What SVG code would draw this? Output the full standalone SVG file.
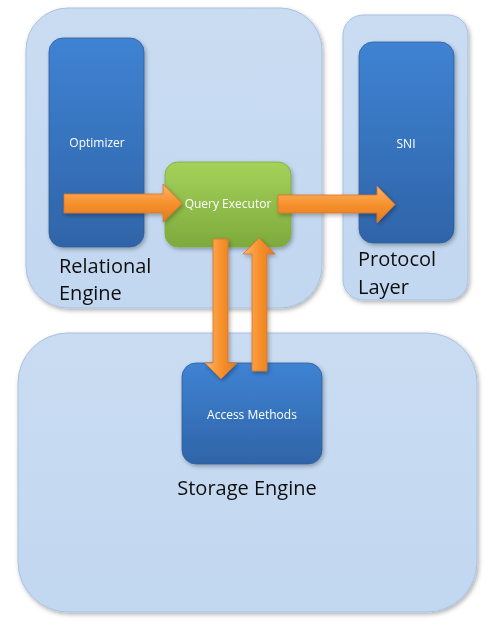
<svg xmlns="http://www.w3.org/2000/svg" width="496" height="622" viewBox="0 0 496 622">
<style>
.outer{fill:url(#gOuter);stroke:#a9c1df;stroke-width:1}
.blue{fill:url(#gBlue);stroke:#2f5e9b;stroke-width:0.8}
.green{fill:url(#gGreen);stroke:#7ea844;stroke-width:0.8}
.arrow{fill:url(#gArrowH);stroke:#d9742a;stroke-width:0.8}
.arrowv{fill:url(#gArrowV);stroke:#d9742a;stroke-width:0.8}
.lbl{font-family:"Open Sans","Liberation Sans",sans-serif;font-size:12px;fill:#ffffff}
.big{font-family:"Open Sans","Liberation Sans",sans-serif;font-size:20px;fill:#111111}
</style>
<defs>
<linearGradient id="gOuter" x1="0" y1="0" x2="0" y2="1">
<stop offset="0" stop-color="#c9dcf2"/>
<stop offset="1" stop-color="#c2d7f0"/>
</linearGradient>
<linearGradient id="gBlue" x1="0" y1="0" x2="0" y2="1">
<stop offset="0" stop-color="#3f83d3"/>
<stop offset="1" stop-color="#2f64a8"/>
</linearGradient>
<linearGradient id="gGreen" x1="0" y1="0" x2="0" y2="1">
<stop offset="0" stop-color="#a4d25a"/>
<stop offset="1" stop-color="#7eaa3c"/>
</linearGradient>
<linearGradient id="gArrowH" x1="0" y1="0" x2="0" y2="1">
<stop offset="0" stop-color="#fbb46a"/>
<stop offset="0.5" stop-color="#f7912d"/>
<stop offset="1" stop-color="#e07a22"/>
</linearGradient>
<linearGradient id="gArrowV" x1="0" y1="0" x2="1" y2="0">
<stop offset="0" stop-color="#fbb46a"/>
<stop offset="0.5" stop-color="#f7912d"/>
<stop offset="1" stop-color="#e07a22"/>
</linearGradient>
<filter id="sh" x="-10%" y="-10%" width="125%" height="125%">
<feDropShadow dx="1.5" dy="2" stdDeviation="2" flood-color="#000" flood-opacity="0.3"/>
</filter>
</defs>

<g id="relational-engine" filter="url(#sh)">
<rect class="outer" x="26" y="8" width="296" height="300" rx="42"/>
<text class="big" x="59" y="273">Relational</text>
<text class="big" x="59" y="300">Engine</text>
</g>
<g id="protocol-layer" filter="url(#sh)">
<rect class="outer" x="343" y="15" width="125" height="285" rx="20"/>
<text class="big" x="358" y="266">Protocol</text>
<text class="big" x="358" y="294">Layer</text>
</g>
<g id="storage-engine" filter="url(#sh)">
<rect class="outer" x="18" y="333" width="459" height="279" rx="50"/>
<text class="big" x="247" y="495" text-anchor="middle">Storage Engine</text>
</g>

<g id="optimizer" filter="url(#sh)">
<rect class="blue" x="49" y="38" width="95" height="209" rx="14"/>
<text class="lbl" x="97" y="147" text-anchor="middle">Optimizer</text>
</g>
<g id="sni" filter="url(#sh)">
<rect class="blue" x="359" y="42" width="95" height="201" rx="14"/>
<text class="lbl" x="406" y="148" text-anchor="middle">SNI</text>
</g>
<g id="query-executor" filter="url(#sh)">
<rect class="green" x="165" y="162" width="126" height="85" rx="13"/>
<text class="lbl" x="228" y="208" text-anchor="middle">Query Executor</text>
</g>
<g id="access-methods" filter="url(#sh)">
<rect class="blue" x="182" y="363" width="140" height="101" rx="14"/>
<text class="lbl" x="252" y="419" text-anchor="middle">Access Methods</text>
</g>

<g id="connectors" filter="url(#sh)">
<polygon class="arrow" points="64,194 163,194 163,184 182,203.5 163,222 163,213 64,213"/>
<polygon class="arrow" points="278,195 377,195 377,186 395,204.5 377,223 377,213 278,213"/>
<polygon class="arrowv" points="213,239 228,239 228,363 237,363 221,379 205,363 213,363"/>
<polygon class="arrowv" points="252,371 267,371 267,254 275,254 259,238 243,254 252,254"/>
</g>
</svg>
